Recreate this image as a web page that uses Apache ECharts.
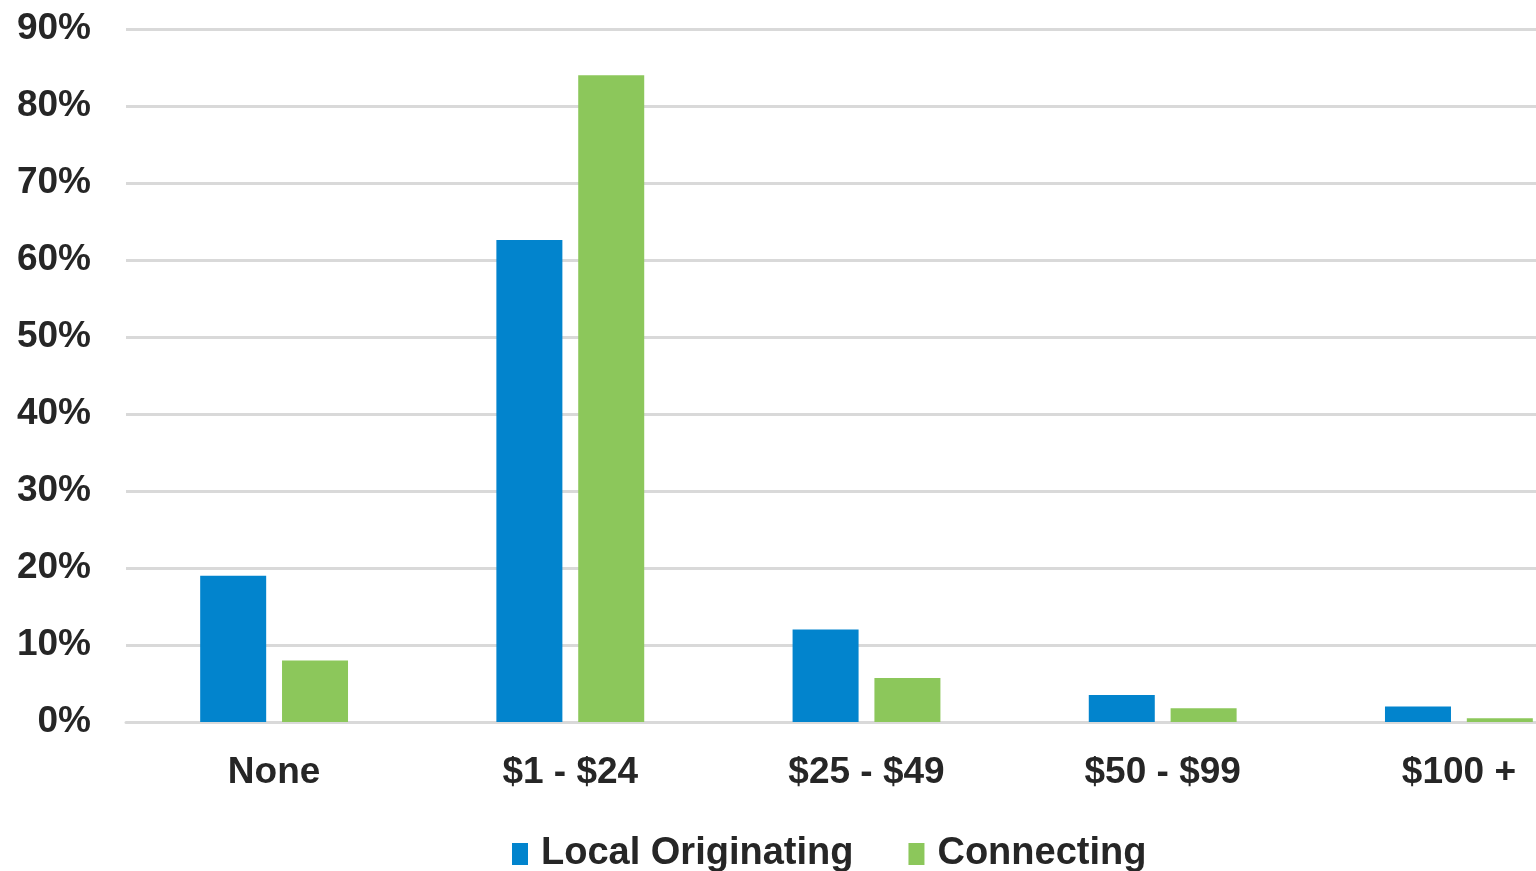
<!DOCTYPE html>
<html>
<head>
<meta charset="utf-8">
<script src="https://cdn.jsdelivr.net/npm/echarts@6/dist/echarts.min.js"></script>
<style>
  html, body { margin: 0; padding: 0; background: #ffffff; overflow: hidden; }
  #wrap { width: 1536px; height: 871px; overflow: hidden; }
  /* the plot runs a little past the right edge of the page */
  #chart { width: 1607px; height: 871px; }
</style>
</head>
<body>
<div id="wrap"><div id="chart"></div></div>
<script>
// Fee ranges on the category axis
const categories = ['None', '$1 - $24', '$25 - $49', '$50 - $99', '$100 +'];
// Share of respondents (%) per fee range
const localOriginating = [19, 62.6, 12, 3.5, 2];
const connecting = [8, 84, 5.7, 1.8, 0.5];
const seriesNames = ['Local Originating', 'Connecting'];

const textColor = '#262626';
const gridColor = '#d9d9d9';
const font = '"Liberation Sans", Arial, sans-serif';

const chart = echarts.init(document.getElementById('chart'));
chart.setOption({
  animation: false,
  backgroundColor: '#ffffff',
  grid: { left: 126, right: 0, top: 29, bottom: 149, containLabel: false },
  legend: {
    left: 507,
    top: 830,
    itemWidth: 16,
    itemHeight: 22,
    itemGap: 55,
    icon: 'rect',
    textStyle: {
      fontFamily: font,
      fontWeight: 'bold',
      fontSize: 38,
      color: textColor,
      padding: [0, 0, 0, 8]
    },
    data: seriesNames
  },
  xAxis: {
    type: 'category',
    data: categories,
    axisLine: { show: true, lineStyle: { color: gridColor, width: 3 } },
    axisTick: { show: false },
    axisLabel: {
      margin: 32,
      fontFamily: font,
      fontWeight: 'bold',
      fontSize: 37,
      color: textColor
    }
  },
  yAxis: {
    type: 'value',
    min: 0,
    max: 90,
    interval: 10,
    axisLine: { show: false },
    axisTick: { show: false },
    splitLine: { lineStyle: { color: gridColor, width: 3 } },
    axisLabel: {
      margin: 35,
      formatter: '{value}%',
      fontFamily: font,
      fontWeight: 'bold',
      fontSize: 37,
      color: textColor
    }
  },
  series: [
    {
      name: seriesNames[0],
      type: 'bar',
      data: localOriginating,
      barWidth: 66,
      barGap: '24%',
      itemStyle: { color: '#0284cd' }
    },
    {
      name: seriesNames[1],
      type: 'bar',
      data: connecting,
      barWidth: 66,
      itemStyle: { color: '#8cc75b' }
    }
  ]
});
</script>
</body>
</html>
